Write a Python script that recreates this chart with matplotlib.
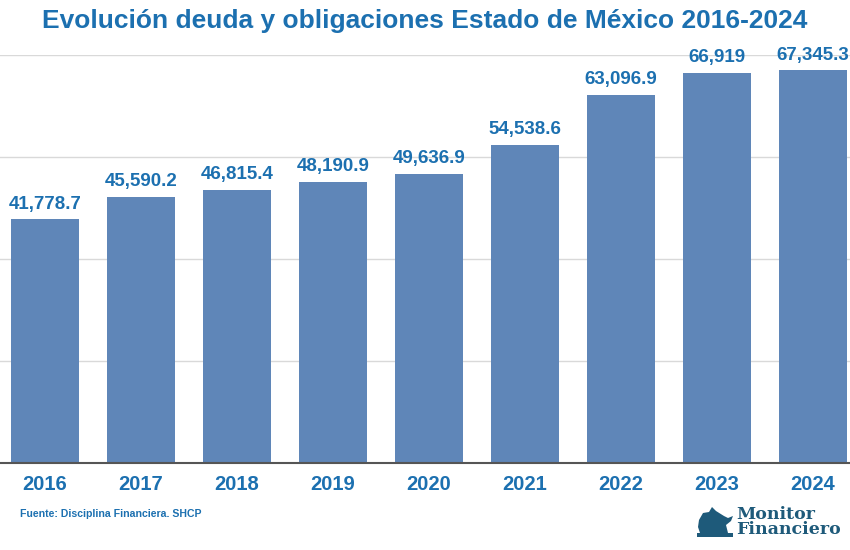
import matplotlib
matplotlib.use("Agg")
import matplotlib.pyplot as plt
from matplotlib.ticker import MultipleLocator
from matplotlib.patches import Polygon

anios = ["2016", "2017", "2018", "2019", "2020", "2021", "2022", "2023", "2024"]
deuda = [41778.7, 45590.2, 46815.4, 48190.9, 49636.9, 54538.6, 63096.9, 66919, 67345.3]
etiquetas = ["41,778.7", "45,590.2", "46,815.4", "48,190.9", "49,636.9",
             "54,538.6", "63,096.9", "66,919", "67,345.3"]

azul_texto = "#1c70b0"
azul_barra = "#5f86b8"
verde_logo = "#1e5a7a"
sans = ["Liberation Sans", "DejaVu Sans"]

fig = plt.figure(figsize=(8.5, 5.5), dpi=100)
ax = fig.add_axes([0, 1 - 463 / 550, 1, (463 - 55) / 550])

x = list(range(len(anios)))
ax.bar(x, deuda, width=0.71, color=azul_barra, zorder=2)

for xi, v, t in zip(x, deuda, etiquetas):
    ax.annotate(t, (xi, v), xytext=(0, 5), textcoords="offset points",
                ha="center", va="bottom", fontsize=13.5, fontweight="bold",
                color=azul_texto, family=sans, zorder=3)

ax.set_xlim(-45 / 96, -45 / 96 + 850 / 96)
ax.set_ylim(0, 70000)
ax.yaxis.set_major_locator(MultipleLocator(17500))
ax.grid(axis="y", color="#d9d9d9", linewidth=1, zorder=0)
ax.set_yticklabels([])
ax.tick_params(axis="y", length=0)
ax.tick_params(axis="x", length=0, pad=9)
ax.set_xticks(x)
ax.set_xticklabels(anios, fontsize=14.5, fontweight="bold", color=azul_texto,
                   family=sans)
for s in ["top", "left", "right"]:
    ax.spines[s].set_visible(False)
ax.spines["bottom"].set_color("#555555")
ax.spines["bottom"].set_linewidth(1.5)
ax.spines["bottom"].set_zorder(4)

fig.text(0.5, 1 - 21 / 550, "Evolución deuda y obligaciones Estado de México 2016-2024",
         ha="center", va="center", fontsize=19, fontweight="bold",
         color=azul_texto, family=sans)

fig.text(20 / 850, 1 - 514 / 550, "Fuente: Disciplina Financiera. SHCP",
         ha="left", va="center", fontsize=7.6, fontweight="bold",
         color=azul_texto, family=sans)

# logo Monitor Financiero
fig.text(736 / 850, 1 - 522 / 550, "Monitor\nFinanciero", ha="left", va="center",
         fontsize=12.5, fontweight="bold", color=verde_logo,
         family=["DejaVu Serif"], linespacing=0.85)
toro = [(697, 537), (733, 537), (733, 533), (728, 533), (726, 525), (731, 521),
        (733, 516), (728, 518), (724, 516), (716, 511), (712, 507), (709, 512),
        (703, 513), (699, 520), (698, 527), (700, 533), (697, 533)]
fig.patches.append(Polygon([(px / 850, 1 - py / 550) for px, py in toro],
                           closed=True, transform=fig.transFigure,
                           facecolor=verde_logo, edgecolor="none"))

fig.savefig("out.png", dpi=100)
